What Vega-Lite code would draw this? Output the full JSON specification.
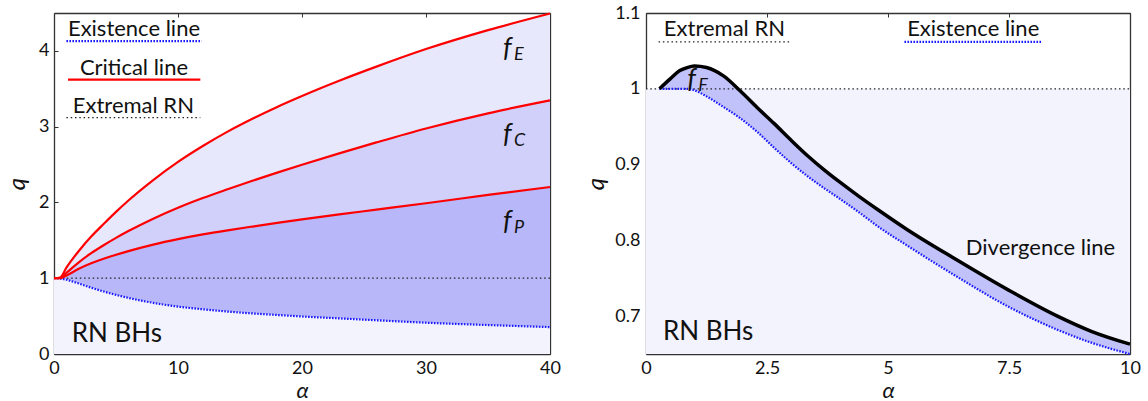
{
  "$schema": "https://vega.github.io/schema/vega-lite/v6.json",
  "background": "white",
  "padding": {"left": 5, "top": 4, "right": 5, "bottom": 0},
  "spacing": 23,
  "config": {
    "view": {"stroke": null},
    "font": "Lato",
    "axis": {
      "grid": false,
      "domainColor": "#333333",
      "domainWidth": 1.3,
      "tickColor": "#333333",
      "tickSize": -4,
      "tickWidth": 1,
      "labelFlush": false,
      "labelFont": "Lato",
      "labelFontSize": 18,
      "labelColor": "#111111",
      "titleFont": "Lato",
      "titleFontStyle": "italic",
      "titleFontWeight": "normal",
      "titleFontSize": 24,
      "titleColor": "#111111",
      "labelExpr": "'' + datum.value",
      "zindex": 1
    }
  },
  "datasets": {
    "left": [
      {"alpha": 0, "top": 1.0, "crit": 1.0, "pos": 1.0, "ex": 1.0},
      {"alpha": 0.5, "top": 1.01, "crit": 1.005, "pos": 1.0, "ex": 0.995},
      {"alpha": 1, "top": 1.14, "crit": 1.07, "pos": 1.035, "ex": 0.98},
      {"alpha": 2, "top": 1.36, "crit": 1.21, "pos": 1.125, "ex": 0.93},
      {"alpha": 3, "top": 1.55, "crit": 1.33, "pos": 1.197, "ex": 0.875},
      {"alpha": 4, "top": 1.715, "crit": 1.435, "pos": 1.257, "ex": 0.825},
      {"alpha": 5, "top": 1.875, "crit": 1.532, "pos": 1.31, "ex": 0.78},
      {"alpha": 6, "top": 2.025, "crit": 1.622, "pos": 1.358, "ex": 0.74},
      {"alpha": 8, "top": 2.295, "crit": 1.786, "pos": 1.444, "ex": 0.675},
      {"alpha": 10, "top": 2.535, "crit": 1.93, "pos": 1.516, "ex": 0.625},
      {"alpha": 12, "top": 2.745, "crit": 2.058, "pos": 1.578, "ex": 0.59},
      {"alpha": 14, "top": 2.935, "crit": 2.174, "pos": 1.632, "ex": 0.56},
      {"alpha": 16, "top": 3.105, "crit": 2.286, "pos": 1.682, "ex": 0.535},
      {"alpha": 18, "top": 3.261, "crit": 2.394, "pos": 1.73, "ex": 0.515},
      {"alpha": 20, "top": 3.405, "crit": 2.498, "pos": 1.776, "ex": 0.495},
      {"alpha": 23, "top": 3.606, "crit": 2.648, "pos": 1.842, "ex": 0.47},
      {"alpha": 26, "top": 3.792, "crit": 2.792, "pos": 1.905, "ex": 0.445},
      {"alpha": 30, "top": 4.024, "crit": 2.976, "pos": 1.989, "ex": 0.413},
      {"alpha": 35, "top": 4.274, "crit": 3.176, "pos": 2.099, "ex": 0.382},
      {"alpha": 40, "top": 4.494, "crit": 3.346, "pos": 2.204, "ex": 0.355}
    ],
    "right": [
      {"alpha": 0.28, "div": 1.0, "ex": 1.0},
      {"alpha": 0.5, "div": 1.013, "ex": 1.0},
      {"alpha": 0.7, "div": 1.024, "ex": 1.0},
      {"alpha": 0.85, "div": 1.028, "ex": 1.0},
      {"alpha": 1.0, "div": 1.03, "ex": 0.998},
      {"alpha": 1.25, "div": 1.028, "ex": 0.99},
      {"alpha": 1.6, "div": 1.017, "ex": 0.976},
      {"alpha": 1.95, "div": 0.997, "ex": 0.961},
      {"alpha": 2.3, "div": 0.975, "ex": 0.943},
      {"alpha": 2.65, "div": 0.954, "ex": 0.922},
      {"alpha": 3.0, "div": 0.932, "ex": 0.902},
      {"alpha": 3.35, "div": 0.911, "ex": 0.884},
      {"alpha": 3.7, "div": 0.892, "ex": 0.868},
      {"alpha": 4.0, "div": 0.877, "ex": 0.855},
      {"alpha": 4.4, "div": 0.858, "ex": 0.837},
      {"alpha": 4.8, "div": 0.84, "ex": 0.818},
      {"alpha": 5.4, "div": 0.814, "ex": 0.793},
      {"alpha": 6.4, "div": 0.775, "ex": 0.753},
      {"alpha": 7.5, "div": 0.734, "ex": 0.712},
      {"alpha": 8.5, "div": 0.7, "ex": 0.682},
      {"alpha": 9.2, "div": 0.68, "ex": 0.665},
      {"alpha": 10, "div": 0.663, "ex": 0.65}
    ],
    "extremalRight": [
      {"alpha": 0, "q": 1},
      {"alpha": 10, "q": 1}
    ],
    "legendLeft": [
      {"label": "Existence line", "a0": 1.0, "a1": 11.9, "amid": 6.45, "q": 4.13, "kind": "ex"},
      {"label": "Critical line", "a0": 1.13, "a1": 11.8, "amid": 6.45, "q": 3.62, "kind": "crit"},
      {"label": "Extremal RN", "a0": 1.0, "a1": 11.8, "amid": 6.4, "q": 3.12, "kind": "rn"}
    ],
    "legendRight": [
      {"label": "Extremal RN", "a0": 0.26, "a1": 2.98, "amid": 1.62, "q": 1.062, "kind": "rn"},
      {"label": "Existence line", "a0": 5.34, "a1": 8.19, "amid": 6.76, "q": 1.062, "kind": "ex"}
    ],
    "regionsLeft": [
      {"f": "f", "sub": "E", "a": 36.2, "q": 3.92},
      {"f": "f", "sub": "C", "a": 36.2, "q": 2.79},
      {"f": "f", "sub": "P", "a": 36.2, "q": 1.64}
    ],
    "regionsRight": [
      {"f": "f", "sub": "F", "a": 0.85, "q": 1.001}
    ],
    "bhLeft": [{"label": "RN BHs", "a": 1.43, "q": 0.16}],
    "bhRight": [{"label": "RN BHs", "a": 0.35, "q": 0.668}],
    "divLabel": [{"label": "Divergence line", "a": 8.15, "q": 0.78}]
  },
  "hconcat": [
    {
      "width": 496,
      "height": 341,
      "resolve": {"axis": {"x": "independent", "y": "independent"}},
      "layer": [
        {
          "data": {"name": "left"},
          "mark": {"type": "area", "color": "#e8e8fc", "interpolate": "monotone"},
          "encoding": {
            "x": {"field": "alpha", "type": "quantitative", "scale": {"domain": [0, 40], "nice": false},
                  "axis": {"orient": "bottom", "values": [0, 10, 20, 30, 40], "title": "α", "titleFontSize": 22, "labelPadding": 9, "titlePadding": 3}},
            "y": {"field": "top", "type": "quantitative", "scale": {"domain": [0, 4.5], "nice": false},
                  "axis": {"orient": "left", "values": [0, 1, 2, 3, 4], "title": "q", "labelPadding": 9, "titlePadding": 9}},
            "y2": {"field": "crit"}
          }
        },
        {
          "data": {"name": "left"},
          "mark": {"type": "area", "color": "#d0d0fa", "interpolate": "monotone"},
          "encoding": {
            "x": {"field": "alpha", "type": "quantitative",
                  "axis": {"orient": "top", "values": [0, 10, 20, 30, 40], "labels": false, "title": null}},
            "y": {"field": "crit", "type": "quantitative",
                  "axis": {"orient": "right", "values": [0, 1, 2, 3, 4], "labels": false, "title": null}},
            "y2": {"field": "pos"}
          }
        },
        {
          "data": {"name": "left"},
          "mark": {"type": "area", "color": "#b7b7f9", "interpolate": "monotone"},
          "encoding": {
            "x": {"field": "alpha", "type": "quantitative", "axis": null},
            "y": {"field": "pos", "type": "quantitative", "axis": null},
            "y2": {"field": "ex"}
          }
        },
        {
          "data": {"name": "left"},
          "mark": {"type": "area", "color": "#f3f3fd", "interpolate": "monotone"},
          "encoding": {
            "x": {"field": "alpha", "type": "quantitative", "axis": null},
            "y": {"field": "ex", "type": "quantitative", "axis": null},
            "y2": {"datum": 0}
          }
        },
        {
          "data": {"values": [{"q": 1}]},
          "mark": {"type": "rule", "color": "#222222", "strokeWidth": 1.2, "strokeDash": [1.5, 2.8]},
          "encoding": {"y": {"field": "q", "type": "quantitative", "axis": null}}
        },
        {
          "data": {"name": "left"},
          "mark": {"type": "line", "color": "#1a1aff", "strokeWidth": 2.2, "strokeDash": [1.6, 1.4], "interpolate": "monotone"},
          "encoding": {
            "x": {"field": "alpha", "type": "quantitative", "axis": null},
            "y": {"field": "ex", "type": "quantitative", "axis": null}
          }
        },
        {
          "data": {"name": "left"},
          "mark": {"type": "line", "color": "#ff0000", "strokeWidth": 2.2, "interpolate": "monotone"},
          "encoding": {
            "x": {"field": "alpha", "type": "quantitative", "axis": null},
            "y": {"field": "top", "type": "quantitative", "axis": null}
          }
        },
        {
          "data": {"name": "left"},
          "mark": {"type": "line", "color": "#ff0000", "strokeWidth": 2.2, "interpolate": "monotone"},
          "encoding": {
            "x": {"field": "alpha", "type": "quantitative", "axis": null},
            "y": {"field": "crit", "type": "quantitative", "axis": null}
          }
        },
        {
          "data": {"name": "left"},
          "mark": {"type": "line", "color": "#ff0000", "strokeWidth": 2.2, "interpolate": "monotone"},
          "encoding": {
            "x": {"field": "alpha", "type": "quantitative", "axis": null},
            "y": {"field": "pos", "type": "quantitative", "axis": null}
          }
        },
        {
          "data": {"name": "legendLeft"},
          "transform": [{"filter": "datum.kind == 'ex'"}],
          "mark": {"type": "rule", "color": "#1a1aff", "strokeWidth": 2.2, "strokeDash": [1.6, 1.4]},
          "encoding": {
            "x": {"field": "a0", "type": "quantitative", "axis": null},
            "x2": {"field": "a1"},
            "y": {"field": "q", "type": "quantitative", "axis": null}
          }
        },
        {
          "data": {"name": "legendLeft"},
          "transform": [{"filter": "datum.kind == 'crit'"}],
          "mark": {"type": "rule", "color": "#ff0000", "strokeWidth": 2.2},
          "encoding": {
            "x": {"field": "a0", "type": "quantitative", "axis": null},
            "x2": {"field": "a1"},
            "y": {"field": "q", "type": "quantitative", "axis": null}
          }
        },
        {
          "data": {"name": "legendLeft"},
          "transform": [{"filter": "datum.kind == 'rn'"}],
          "mark": {"type": "rule", "color": "#222222", "strokeWidth": 1.2, "strokeDash": [1.5, 2.8]},
          "encoding": {
            "x": {"field": "a0", "type": "quantitative", "axis": null},
            "x2": {"field": "a1"},
            "y": {"field": "q", "type": "quantitative", "axis": null}
          }
        },
        {
          "data": {"name": "legendLeft"},
          "mark": {"type": "text", "font": "Lato", "fontSize": 22, "color": "#111111", "align": "center", "baseline": "alphabetic", "dy": -5},
          "encoding": {
            "x": {"field": "amid", "type": "quantitative", "axis": null},
            "y": {"field": "q", "type": "quantitative", "axis": null},
            "text": {"field": "label"}
          }
        },
        {
          "data": {"name": "regionsLeft"},
          "mark": {"type": "text", "font": "Lato", "fontStyle": "italic", "fontSize": 27, "color": "#111111", "align": "left", "baseline": "alphabetic"},
          "encoding": {
            "x": {"field": "a", "type": "quantitative", "axis": null},
            "y": {"field": "q", "type": "quantitative", "axis": null},
            "text": {"field": "f"}
          }
        },
        {
          "data": {"name": "regionsLeft"},
          "mark": {"type": "text", "font": "Lato", "fontStyle": "italic", "fontSize": 18, "color": "#111111", "align": "left", "baseline": "alphabetic", "dx": 11, "dy": 3},
          "encoding": {
            "x": {"field": "a", "type": "quantitative", "axis": null},
            "y": {"field": "q", "type": "quantitative", "axis": null},
            "text": {"field": "sub"}
          }
        },
        {
          "data": {"name": "bhLeft"},
          "mark": {"type": "text", "font": "Lato", "fontSize": 26, "color": "#111111", "align": "left", "baseline": "alphabetic"},
          "encoding": {
            "x": {"field": "a", "type": "quantitative", "axis": null},
            "y": {"field": "q", "type": "quantitative", "axis": null},
            "text": {"field": "label"}
          }
        }
      ]
    },
    {
      "width": 484,
      "height": 341,
      "resolve": {"axis": {"x": "independent", "y": "independent"}},
      "layer": [
        {
          "data": {"name": "extremalRight"},
          "mark": {"type": "area", "color": "#f3f3fd"},
          "encoding": {
            "x": {"field": "alpha", "type": "quantitative", "scale": {"domain": [0, 10], "nice": false},
                  "axis": {"orient": "bottom", "values": [0, 2.5, 5, 7.5, 10], "title": "α", "titleFontSize": 22, "labelPadding": 9, "titlePadding": 3}},
            "y": {"field": "q", "type": "quantitative", "scale": {"domain": [0.65, 1.1], "nice": false, "zero": false},
                  "axis": {"orient": "left", "values": [0.7, 0.8, 0.9, 1, 1.1], "title": "q", "labelPadding": 10, "titlePadding": 6}},
            "y2": {"datum": 0.65}
          }
        },
        {
          "data": {"name": "right"},
          "mark": {"type": "area", "color": "#c2c2fa", "interpolate": "monotone"},
          "encoding": {
            "x": {"field": "alpha", "type": "quantitative",
                  "axis": {"orient": "top", "values": [0, 2.5, 5, 7.5, 10], "labels": false, "title": null}},
            "y": {"field": "div", "type": "quantitative",
                  "axis": {"orient": "right", "values": [0.7, 0.8, 0.9, 1, 1.1], "labels": false, "title": null}},
            "y2": {"field": "ex"}
          }
        },
        {
          "data": {"name": "extremalRight"},
          "mark": {"type": "line", "color": "#222222", "strokeWidth": 1.2, "strokeDash": [1.5, 2.8]},
          "encoding": {
            "x": {"field": "alpha", "type": "quantitative", "axis": null},
            "y": {"field": "q", "type": "quantitative", "axis": null}
          }
        },
        {
          "data": {"name": "right"},
          "mark": {"type": "line", "color": "#1a1aff", "strokeWidth": 2.2, "strokeDash": [1.6, 1.4], "interpolate": "monotone"},
          "encoding": {
            "x": {"field": "alpha", "type": "quantitative", "axis": null},
            "y": {"field": "ex", "type": "quantitative", "axis": null}
          }
        },
        {
          "data": {"name": "right"},
          "mark": {"type": "line", "color": "#000000", "strokeWidth": 3.5, "interpolate": "monotone"},
          "encoding": {
            "x": {"field": "alpha", "type": "quantitative", "axis": null},
            "y": {"field": "div", "type": "quantitative", "axis": null}
          }
        },
        {
          "data": {"name": "legendRight"},
          "transform": [{"filter": "datum.kind == 'ex'"}],
          "mark": {"type": "rule", "color": "#1a1aff", "strokeWidth": 2.2, "strokeDash": [1.6, 1.4]},
          "encoding": {
            "x": {"field": "a0", "type": "quantitative", "axis": null},
            "x2": {"field": "a1"},
            "y": {"field": "q", "type": "quantitative", "axis": null}
          }
        },
        {
          "data": {"name": "legendRight"},
          "transform": [{"filter": "datum.kind == 'rn'"}],
          "mark": {"type": "rule", "color": "#222222", "strokeWidth": 1.2, "strokeDash": [1.5, 2.8]},
          "encoding": {
            "x": {"field": "a0", "type": "quantitative", "axis": null},
            "x2": {"field": "a1"},
            "y": {"field": "q", "type": "quantitative", "axis": null}
          }
        },
        {
          "data": {"name": "legendRight"},
          "mark": {"type": "text", "font": "Lato", "fontSize": 22, "color": "#111111", "align": "center", "baseline": "alphabetic", "dy": -6},
          "encoding": {
            "x": {"field": "amid", "type": "quantitative", "axis": null},
            "y": {"field": "q", "type": "quantitative", "axis": null},
            "text": {"field": "label"}
          }
        },
        {
          "data": {"name": "divLabel"},
          "mark": {"type": "text", "font": "Lato", "fontSize": 22, "color": "#111111", "align": "center", "baseline": "alphabetic"},
          "encoding": {
            "x": {"field": "a", "type": "quantitative", "axis": null},
            "y": {"field": "q", "type": "quantitative", "axis": null},
            "text": {"field": "label"}
          }
        },
        {
          "data": {"name": "regionsRight"},
          "mark": {"type": "text", "font": "Lato", "fontStyle": "italic", "fontSize": 27, "color": "#111111", "align": "left", "baseline": "alphabetic"},
          "encoding": {
            "x": {"field": "a", "type": "quantitative", "axis": null},
            "y": {"field": "q", "type": "quantitative", "axis": null},
            "text": {"field": "f"}
          }
        },
        {
          "data": {"name": "regionsRight"},
          "mark": {"type": "text", "font": "Lato", "fontStyle": "italic", "fontSize": 18, "color": "#111111", "align": "left", "baseline": "alphabetic", "dx": 11, "dy": 3},
          "encoding": {
            "x": {"field": "a", "type": "quantitative", "axis": null},
            "y": {"field": "q", "type": "quantitative", "axis": null},
            "text": {"field": "sub"}
          }
        },
        {
          "data": {"name": "bhRight"},
          "mark": {"type": "text", "font": "Lato", "fontSize": 26, "color": "#111111", "align": "left", "baseline": "alphabetic"},
          "encoding": {
            "x": {"field": "a", "type": "quantitative", "axis": null},
            "y": {"field": "q", "type": "quantitative", "axis": null},
            "text": {"field": "label"}
          }
        }
      ]
    }
  ]
}
